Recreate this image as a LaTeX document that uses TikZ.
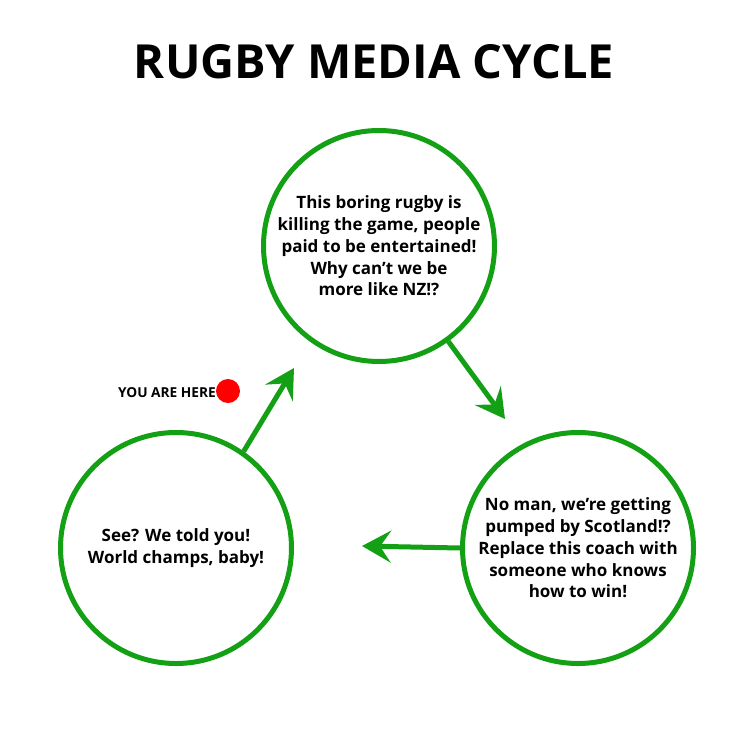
\documentclass[tikz,border=0pt]{standalone}
\usepackage{fontspec}
\setmainfont{Open Sans}
\usetikzlibrary{arrows.meta}
\definecolor{cgreen}{RGB}{20,160,20}
\definecolor{cred}{RGB}{255,0,0}
\begin{document}
\begin{tikzpicture}[x=1pt,y=-1pt,
  stage/.style={circle,draw=cgreen,line width=5pt,minimum size=231pt,inner sep=0pt,align=center,
    font=\bfseries\fontsize{17}{21.7}\selectfont},
  cyc/.style={draw=cgreen,line width=5pt,-{Stealth[length=29pt,width=32pt,inset=11pt]}},
  ttl/.style={font=\bfseries\fontsize{47}{52}\selectfont,anchor=base},
  here/.style={font=\bfseries\fontsize{13.7}{16}\selectfont,anchor=base east,inner sep=0pt}]
\fill[white] (0,0) rectangle (750,750);
\useasboundingbox (0,0) rectangle (750,750);
\node[ttl] (title) at (374,78) {RUGBY MEDIA CYCLE};
\node[stage] (top) at (379,246) {This boring rugby is\\killing the game, people\\paid to be entertained!\\Why can’t we be\\more like NZ!?};
\node[stage] (br) at (578,548) {No man, we’re getting\\pumped by Scotland!?\\Replace this coach with\\someone who knows\\how to win!};
\node[stage] (bl) at (176,548) {See? We told you!\\World champs, baby!};
\coordinate (t1) at (294,368);
\coordinate (t2) at (505,419);
\coordinate (t3) at (362,546);
\draw[cyc] (bl.55) -- (t1);
\draw[cyc] (top.-54) -- (t2);
\draw[cyc] (br.west) -- (t3);
\node[circle,fill=cred,minimum size=24pt,inner sep=0pt] (dot) at (228,391) {};
\node[here] (youare) at (216,397) {YOU ARE HERE};
\end{tikzpicture}
\end{document}
